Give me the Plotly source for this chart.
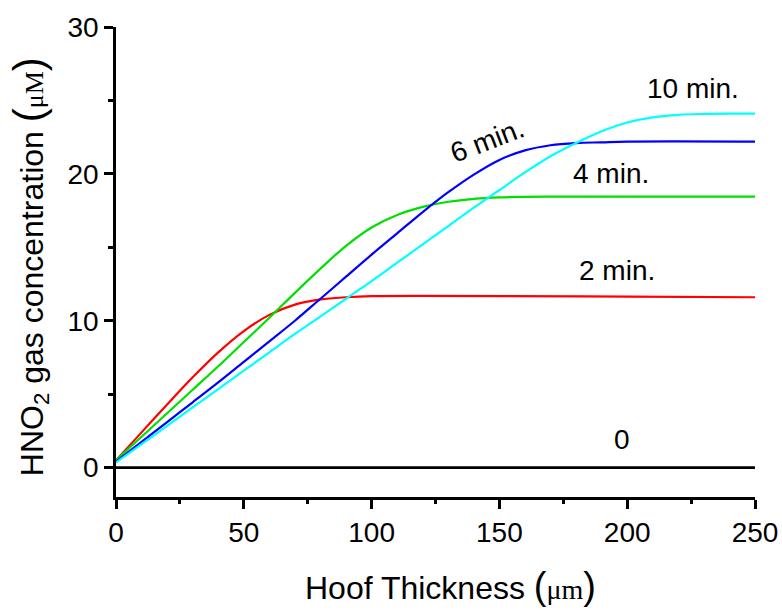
import plotly.graph_objects as go

# Hoof thickness grid (µm) for each series
x_2min = [0, 10, 20, 30, 40, 50, 60, 70, 80, 90, 100, 120, 150, 200, 250]
y_2min = [0.5, 2.4, 4.3, 6.15, 7.85, 9.3, 10.4, 11.1, 11.45, 11.6, 11.68, 11.7, 11.68, 11.64, 11.6]

x_4min = [0, 10, 20, 30, 40, 50, 60, 70, 80, 90, 100, 110, 120, 130, 140, 150, 170, 200, 250]
y_4min = [0.5, 2.1, 3.7, 5.3, 6.9, 8.55, 10.2, 11.9, 13.55, 15.1, 16.35, 17.2, 17.75, 18.1, 18.3, 18.4, 18.45, 18.45, 18.45]

x_6min = [0, 10, 20, 30, 40, 50, 60, 70, 80, 90, 100, 110, 120, 130, 140, 150, 160, 170, 180, 190, 200, 250]
y_6min = [0.4, 1.75, 3.1, 4.45, 5.8, 7.2, 8.6, 10.0, 11.5, 13.0, 14.5, 15.95, 17.4, 18.75, 19.95, 20.95, 21.6, 21.95, 22.1, 22.15, 22.2, 22.2]

x_10min = [0, 10, 20, 30, 40, 50, 60, 70, 80, 90, 100, 110, 120, 130, 140, 150, 160, 170, 180, 190, 200, 210, 220, 230, 240, 250]
y_10min = [0.35, 1.6, 2.85, 4.1, 5.35, 6.6, 7.85, 9.1, 10.3, 11.5, 12.7, 13.95, 15.2, 16.45, 17.7, 18.9, 20.1, 21.2, 22.1, 22.9, 23.5, 23.85, 24.02, 24.08, 24.1, 24.1]

x_0 = [0, 250]
y_0 = [0, 0]

labels = ["0", "2 min.", "4 min.", "6 min.", "10 min."]
label_x = [197.8, 196.0, 193.7, 145.2, 225.7]
label_y = [1.9, 13.4, 20.0, 22.3, 25.8]
label_angle = [0, 0, 0, -21, 0]

x_ticks = [0, 50, 100, 150, 200, 250]
y_ticks = [0, 10, 20, 30]

x_title = ("Hoof Thickness <span style='font-size:38px'>(</span>"
           "<span style='font-family:Liberation Serif, serif;font-size:28px'>μm</span>"
           "<span style='font-size:38px'>)</span>")
y_title = ("HNO<sub>2</sub> gas concentration <span style='font-size:42px'>(</span>"
           "<span style='font-family:Liberation Serif, serif;font-size:26px'>μM</span>"
           "<span style='font-size:42px'>)</span>")

FONT = "Liberation Sans, Arial, sans-serif"

fig = go.Figure()
series = [
    (x_0, y_0, "black", 2.6),
    (x_2min, y_2min, "#ff0000", 2.2),
    (x_4min, y_4min, "#00e000", 2.2),
    (x_6min, y_6min, "#0000ff", 2.2),
    (x_10min, y_10min, "#00ffff", 2.2),
]
for xs, ys, col, w in series:
    fig.add_trace(go.Scatter(x=xs, y=ys, mode="lines",
                             line=dict(color=col, width=w, shape="spline", smoothing=1.0),
                             showlegend=False, hoverinfo="skip"))

for t, xx, yy, ang in zip(labels, label_x, label_y, label_angle):
    fig.add_annotation(x=xx, y=yy, text=t, showarrow=False, textangle=ang,
                       font=dict(family=FONT, size=28, color="black"),
                       xanchor="center", yanchor="middle")

# axis titles
fig.add_annotation(x=0.523, y=-0.19, xref="paper", yref="paper", text=x_title,
                   showarrow=False, xanchor="center", yanchor="middle",
                   font=dict(family=FONT, size=32, color="black"))
fig.add_annotation(x=-0.1346, y=0.491, xref="paper", yref="paper", text=y_title,
                   showarrow=False, xanchor="center", yanchor="middle", textangle=-90,
                   font=dict(family=FONT, size=32, color="black"))

axis_common = dict(showline=True, linecolor="black", linewidth=2.5,
                   showgrid=False, zeroline=False, tickcolor="black",
                   tickwidth=2.5, ticklen=9, automargin=False)

fig.update_layout(
    width=782, height=610,
    margin=dict(l=116, r=27, t=27, b=113, autoexpand=False),
    paper_bgcolor="white", plot_bgcolor="white",
    font=dict(family=FONT, color="black"),
    xaxis=dict(range=[0, 250], tickvals=x_ticks, ticks="outside",
               tickfont=dict(size=28),
               minor=dict(ticks="outside", ticklen=4, tickwidth=2.5, tickcolor="black", dtick=25),
               **axis_common),
    yaxis=dict(range=[-2, 30], tickvals=y_ticks, ticks="outside",
               tickfont=dict(size=28),
               minor=dict(ticks="outside", ticklen=5, tickwidth=2.5, tickcolor="black", dtick=5),
               **axis_common),
    xaxis2=dict(range=[0, 250], overlaying="x", side="top", anchor="y",
                tickvals=x_ticks, ticks="inside", showticklabels=False,
                minor=dict(ticks="inside", ticklen=4, tickwidth=2.5, tickcolor="black", dtick=25),
                **axis_common),
    yaxis2=dict(range=[-2, 30], overlaying="y", side="right", anchor="x",
                tickvals=y_ticks, ticks="inside", showticklabels=False,
                minor=dict(ticks="inside", ticklen=5, tickwidth=2.5, tickcolor="black", dtick=5),
                **axis_common),
)

fig.write_html("out.html")
